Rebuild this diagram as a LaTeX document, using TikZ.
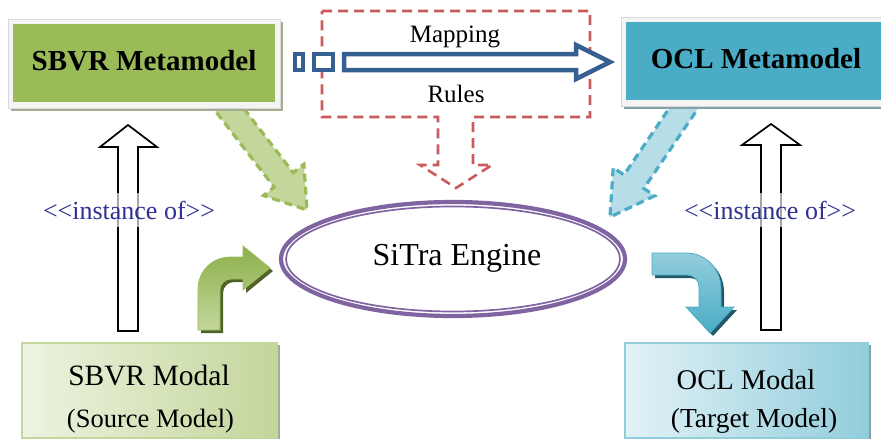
\documentclass[tikz,border=0pt]{standalone}
\usepackage{fontspec}
\setmainfont{Liberation Serif}
\definecolor{sbvrgreen}{HTML}{9BBB59}
\definecolor{sbvrlight}{HTML}{C3D69B}
\definecolor{sbvrpale}{HTML}{EDF3E1}
\definecolor{sbvrshade}{HTML}{A4AE8E}
\definecolor{sbvrdark}{HTML}{4F6228}
\definecolor{sbvrmid}{HTML}{8DB04A}
\definecolor{oclblue}{HTML}{4BACC6}
\definecolor{ocllight}{HTML}{B7DEE8}
\definecolor{oclpale}{HTML}{E2F2F6}
\definecolor{oclmid}{HTML}{92CDDC}
\definecolor{oclshade}{HTML}{85A2AA}
\definecolor{ocldark}{HTML}{215968}
\definecolor{enginepurple}{HTML}{8064A2}
\definecolor{mapblue}{HTML}{376092}
\definecolor{rulered}{HTML}{CC5A5C}
\definecolor{labelblue}{HTML}{2E3192}
\definecolor{framegray}{HTML}{F4F4F4}
\newcommand{\fsz}[1]{\fontsize{#1}{#1}\selectfont}
\begin{document}
\begin{tikzpicture}[x=1pt,y=-1pt,
  metalabel/.style={font=\fsz{29}\bfseries, inner sep=0pt},
  plainlabel/.style={inner sep=0pt, anchor=base},
  instlabel/.style={font=\fsz{26}, text=labelblue, fill=white, fill opacity=0.65,
    text opacity=1, inner xsep=1pt, inner ysep=8pt},
  dashedblock/.style={line width=3.2pt, dash pattern=on 8pt off 5pt, line join=miter},
  hollowblock/.style={draw=black, line width=1.7pt, fill=white, line join=miter},
  mapstroke/.style={draw=mapblue, line width=4.5pt, fill=white, line join=miter}]
\useasboundingbox (0,0) rectangle (881,439);
\fill[white] (0,0) rectangle (881,439);

% dashed block arrows from the metamodels into the engine
\draw[dashedblock, draw=sbvrgreen, fill=sbvrlight]
  (208.7,102.3) -- (274.2,187.2) -- (263.5,195.5) -- (307,210)
  -- (303.9,164.3) -- (293.2,172.6) -- (227.7,87.7) -- cycle;
\draw[dashedblock, draw=oclblue, fill=ocllight]
  (702.6,101.7) -- (643.8,188.4) -- (654.6,195.8) -- (610,217)
  -- (613.2,167.6) -- (624,174.9) -- (682.8,88.3) -- cycle;

% metamodel boxes
\fill[sbvrshade] (11,22) rectangle (283,111);
\draw[black!15, fill=framegray, line width=0.6pt] (8,19) rectangle (280,108);
\fill[sbvrgreen] (13,24) rectangle (275,102);
\node[metalabel] (sbvrmeta) at (144,60.5) {SBVR Metamodel};

\fill[oclshade] (624,20) rectangle (886,109);
\draw[black!15, fill=framegray, line width=0.6pt] (621,17) rectangle (884,106);
\fill[oclblue] (626,22) rectangle (882,100);
\node[metalabel] (oclmeta) at (756,59) {OCL Metamodel};

% mapping rules callout with its downward arrow
\draw[rulered, line width=2.6pt, dash pattern=on 10pt off 6pt]
  (322,11) -- (590,11) -- (590,117) -- (473,117) -- (473,165) -- (492,165)
  -- (456,188) -- (420,165) -- (438,165) -- (438,117) -- (322,117) -- cycle;
\node[plainlabel, font=\fsz{25}] (mapping) at (455,42) {Mapping};
\node[plainlabel, font=\fsz{25}] (rules) at (456,102) {Rules};

% striped block arrow between the metamodels
\draw[mapstroke] (295,54) rectangle (303,70);
\draw[mapstroke] (314,54) rectangle (333,70);
\draw[mapstroke] (344,54) -- (576,54) -- (576,45) -- (610,62) -- (576,79)
  -- (576,70) -- (344,70) -- cycle;

% instance-of arrows
\draw[hollowblock] (118,331) -- (118,147) -- (100,147) -- (128,125)
  -- (157,147) -- (138,147) -- (138,331) -- cycle;
\draw[hollowblock] (761,330) -- (761,145) -- (742,145) -- (771,124)
  -- (800,145) -- (781,145) -- (781,330) -- cycle;
\node[instlabel] (instleft) at (129,210) {<{}<instance of>{}>};
\node[instlabel] (instright) at (770,210) {<{}<instance of>{}>};

% transformation engine
\draw[enginepurple, line width=4.2pt] (453,259) ellipse [x radius=172, y radius=57];
\draw[enginepurple, line width=1.7pt] (453,259) ellipse [x radius=167, y radius=52.5];
\node[plainlabel, font=\fsz{32}] (engine) at (457,265) {SiTra Engine};

% bent arrows: source into the engine, engine out to the target
\fill[sbvrdark, shift={(3,3)}]
  (198,330) -- (198,290) .. controls (198,271) and (212,257) .. (231,257)
  -- (243,257) -- (243,246) -- (270,268) -- (243,290) -- (243,279) -- (231,279)
  .. controls (225,279) and (220,284) .. (220,290) -- (220,330) -- cycle;
\draw[sbvrgreen, line width=0.8pt, top color=sbvrmid, bottom color=sbvrlight]
  (198,330) -- (198,290) .. controls (198,271) and (212,257) .. (231,257)
  -- (243,257) -- (243,246) -- (270,268) -- (243,290) -- (243,279) -- (231,279)
  .. controls (225,279) and (220,284) .. (220,290) -- (220,330) -- cycle;

\fill[ocldark, shift={(3,3)}]
  (652,253) -- (686,253) .. controls (706,253) and (721,269) .. (721,289)
  -- (721,307) -- (734,307) -- (710,333) -- (686,307) -- (699,307) -- (699,287)
  .. controls (699,280) and (694,275) .. (687,275) -- (652,275) -- cycle;
\draw[oclblue, line width=0.8pt, top color=oclmid, bottom color=oclblue]
  (652,253) -- (686,253) .. controls (706,253) and (721,269) .. (721,289)
  -- (721,307) -- (734,307) -- (710,333) -- (686,307) -- (699,307) -- (699,287)
  .. controls (699,280) and (694,275) .. (687,275) -- (652,275) -- cycle;

% model boxes
\fill[sbvrshade] (24,345) rectangle (280,441);
\draw[sbvrlight, line width=1.5pt, left color=sbvrpale, right color=sbvrlight]
  (22,343) rectangle (277,438);
\node[plainlabel, font=\fsz{29.5}] (sbvrmodal) at (149,385) {SBVR Modal};
\node[plainlabel, font=\fsz{26.5}] (sbvrsource) at (150.5,427) {(Source Model)};

\fill[oclshade] (627,345) rectangle (871,441);
\draw[oclmid, line width=1.5pt, left color=oclpale, right color=oclmid]
  (625,343) rectangle (868,438);
\node[plainlabel, font=\fsz{28.5}] (oclmodal) at (746,389) {OCL Modal};
\node[plainlabel, font=\fsz{27.5}] (ocltarget) at (754,427) {(Target Model)};
\end{tikzpicture}
\end{document}
